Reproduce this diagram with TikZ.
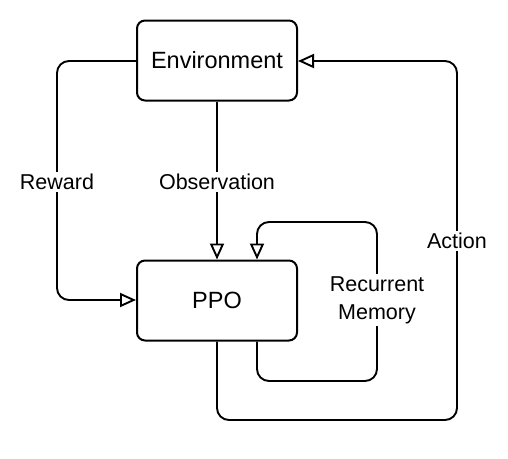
\documentclass[tikz,border=0pt]{standalone}
\usepackage{fontspec}
\setmainfont{Liberation Sans}
\usetikzlibrary{arrows.meta}
\begin{document}
\begin{tikzpicture}[x=1pt,y=-1pt,
  box/.style={draw=black, line width=2pt, rounded corners=8pt, minimum width=160pt, minimum height=80pt, inner sep=0pt, font=\fontsize{23.5}{28}\selectfont},
  conn/.style={draw=black, line width=1.9pt, rounded corners=12pt, -{Triangle[open, length=16pt, width=14pt, line width=1.9pt]}},
  lbl/.style={fill=white, inner sep=2pt, font=\fontsize{21.5}{28}\selectfont, align=center}
]
\useasboundingbox (0,0) rectangle (508,458);
\node[box] (env) at (217,60.5) {Environment};
\node[box] (ppo) at (217,300.5) {PPO};
\coordinate (rw1) at (57,61);
\coordinate (rw2) at (57,300);
\coordinate (rm1) at (257,381);
\coordinate (rm2) at (377,381);
\coordinate (rm3) at (377,222);
\coordinate (rm4) at (257,222);
\coordinate (ac1) at (217,420);
\coordinate (ac2) at (457,420);
\coordinate (ac3) at (457,61);
% Reward
\draw[conn] (env.west |- rw1) -- (rw1) -- (rw2) -- (ppo.west |- rw2);
\node[lbl] (lrw) at (57,182) {Reward};
% Observation
\draw[conn] (env.south) -- (ppo.north);
\node[lbl] (lob) at (217,182) {Observation};
% Recurrent memory
\draw[conn] (ppo.south -| rm1) -- (rm1) -- (rm2) -- (rm3) -- (rm4) -- (ppo.north -| rm4);
\node[lbl] (lrm) at (377,300) {Recurrent\\Memory};
% Action
\draw[conn] (ppo.south) -- (ac1) -- (ac2) -- (ac3) -- (env.east |- ac3);
\node[lbl] (lac) at (457,241) {Action};
\end{tikzpicture}
\end{document}
